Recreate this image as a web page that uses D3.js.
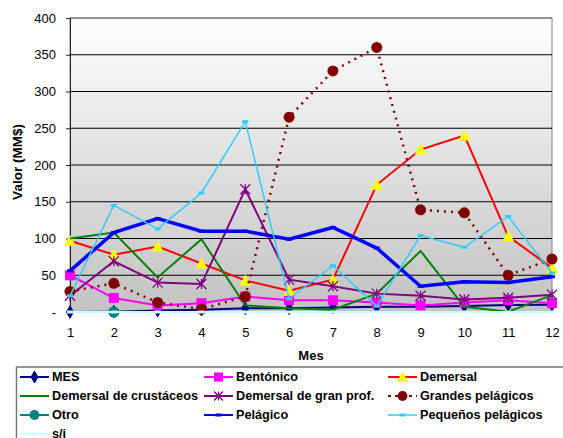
<!DOCTYPE html>
<html>
<head>
<meta charset="utf-8">
<script src="https://cdn.jsdelivr.net/npm/d3@7"></script>
<style>
  body { margin: 0; background: #fff; }
  svg { font-family: "Liberation Sans", Arial, sans-serif; }
  .axis text { font-size: 13px; fill: #000; font-family: "Liberation Sans", Arial, sans-serif; }
  .legend text { font-size: 12.7px; font-weight: bold; }
</style>
</head>
<body>
<svg id="chart" width="563" height="438"></svg>
<script>
// months on the x axis
const months = [1, 2, 3, 4, 5, 6, 7, 8, 9, 10, 11, 12];
const yTicks = [0, 50, 100, 150, 200, 250, 300, 350, 400];

// values per series (MM$)
const mes          = [0, 0.5, 2, 3, 5, 5, 6, 7, 7, 8, 9.5, 10];
const bentonico    = [50, 19, 9, 12, 21, 16, 16, 13, 9, 13, 16, 12];
const demersal     = [97, 78, 89, 66, 43, 29, 44, 173, 221, 240, 103, 60];
const crustaceos   = [100, 108, 47, 99, 9, 5, 3, 25, 83, 7, 0.5, 23];
const granProf     = [22, 69, 40, 38, 167, 44, 35, 25, 22, 17, 19.5, 23.5];
const grandesPel   = [28, 39, 13, 4, 21, 265, 328, 360, 139, 135, 50, 72];
const otro         = [null, 0, null, null, null, null, null, null, null, null, null, null];
const pelagico     = [56, 108, 127, 110, 110, 99, 115, 87, 35, 41, 40, 48];
const pequenos     = [22, 145, 113, 162, 259, 18, 63, 8, 104, 88, 130, 53];
const sinInfo      = [0, 0, 0, 0, 0, 0, 0, 0, 0, 0, 0, 0];

const series = [
  {name: 'MES', values: mes, color: '#000080', width: 2, marker: 'diamond', fill: '#000080'},
  {name: 'Bentónico', values: bentonico, color: '#FF00FF', width: 2, marker: 'square', fill: '#FF00FF'},
  {name: 'Demersal', values: demersal, color: '#FF0000', width: 2, marker: 'triangle', fill: '#FFFF00'},
  {name: 'Demersal de crustáceos', values: crustaceos, color: '#008000', width: 2, marker: null},
  {name: 'Demersal de gran prof.', values: granProf, color: '#800080', width: 2, marker: 'asterisk'},
  {name: 'Grandes pelágicos', values: grandesPel, color: '#800000', width: 2.5, marker: 'circle', fill: '#800000', dash: '2,5'},
  {name: 'Otro', values: otro, color: '#008080', width: 2, marker: 'circle', fill: '#008080'},
  {name: 'Pelágico', values: pelagico, color: '#0000FF', width: 3.5, marker: 'dash'},
  {name: 'Pequeños pelágicos', values: pequenos, color: '#33CCFF', width: 1.5, marker: 'dash'},
  {name: 's/i', values: sinInfo, color: '#CCFFFF', width: 2, marker: 'dash'}
];

const svg = d3.select('#chart');
const margin = {left: 70, right: 11, top: 18, bottom: 126};
const width = 563 - margin.left - margin.right;
const height = 438 - margin.top - margin.bottom;

const x = d3.scalePoint().domain(months).range([0, width]);
const y = d3.scaleLinear().domain([0, 400]).range([height, 0]);

// background gradient
const defs = svg.append('defs');
const grad = defs.append('linearGradient')
  .attr('id', 'bg').attr('x1', 0).attr('y1', 0).attr('x2', 0).attr('y2', 1);
grad.append('stop').attr('offset', '0%').attr('stop-color', '#fefefe');
grad.append('stop').attr('offset', '100%').attr('stop-color', '#c2c2c2');

const chart = svg.append('g')
  .attr('transform', `translate(${margin.left},${margin.top})`);

chart.append('rect')
  .attr('width', width).attr('height', height)
  .attr('fill', 'url(#bg)')
  .attr('stroke', '#808080').attr('stroke-width', 1);

// gridlines
chart.selectAll('.grid')
  .data(yTicks.filter(d => d > 0))
  .join('line')
    .attr('class', 'grid')
    .attr('x1', 0).attr('x2', width)
    .attr('y1', d => y(d)).attr('y2', d => y(d))
    .attr('stroke', d => d === 400 ? '#666' : '#000')
    .attr('stroke-width', 1);

// axes
const yAxis = d3.axisLeft(y)
  .tickValues(yTicks)
  .tickFormat(d => d === 0 ? '-' : d)
  .tickSize(4).tickPadding(10);
chart.append('g').attr('class', 'axis').call(yAxis)
  .call(g => g.select('.domain').attr('stroke', '#222'))
  .call(g => g.selectAll('.tick line').attr('stroke', '#222'));

const xAxis = d3.axisBottom(x).tickSize(0).tickPadding(16);
chart.append('g').attr('class', 'axis')
  .attr('transform', `translate(0,${height})`)
  .call(xAxis)
  .call(g => g.select('.domain').attr('stroke', '#222'));

// axis titles
svg.append('text')
  .attr('transform', `translate(22,${margin.top + height / 2 - 3}) rotate(-90)`)
  .attr('text-anchor', 'middle')
  .style('font-size', '13.5px').style('font-weight', 'bold')
  .text('Valor (MM$)');
svg.append('text')
  .attr('x', margin.left + width / 2).attr('y', 360)
  .attr('text-anchor', 'middle')
  .style('font-size', '13px').style('font-weight', 'bold')
  .text('Mes');

// marker drawing helper
function drawMarker(g, s, size) {
  const k = size || 1;
  if (s.marker === 'diamond') {
    g.append('path').attr('d', d3.symbol(d3.symbolDiamond, 45 * k)())
      .attr('fill', s.fill).attr('stroke', s.color);
  } else if (s.marker === 'square') {
    g.append('rect').attr('x', -5 * k).attr('y', -5 * k)
      .attr('width', 10 * k).attr('height', 10 * k).attr('fill', s.fill);
  } else if (s.marker === 'triangle') {
    g.append('path').attr('d', `M0,${-6 * k}L${6 * k},${5 * k}L${-6 * k},${5 * k}Z`)
      .attr('fill', s.fill);
  } else if (s.marker === 'circle') {
    g.append('circle').attr('r', 5.5 * k).attr('fill', s.fill);
  } else if (s.marker === 'asterisk') {
    const r = 5 * k;
    g.append('path')
      .attr('d', `M${-r},${-r}L${r},${r}M${-r},${r}L${r},${-r}M0,${-r}L0,${r}`)
      .attr('stroke', s.color).attr('stroke-width', 1.3).attr('fill', 'none');
  } else if (s.marker === 'dash') {
    g.append('rect').attr('x', -3).attr('y', -1.5).attr('width', 6).attr('height', 3)
      .attr('fill', s.color);
  }
}

const line = d3.line()
  .defined(d => d.v !== null)
  .x(d => x(d.m))
  .y(d => y(d.v));

series.forEach(s => {
  const pts = months.map((m, i) => ({m, v: s.values[i]}));
  chart.append('path')
    .datum(pts)
    .attr('fill', 'none')
    .attr('stroke', s.color)
    .attr('stroke-width', s.width)
    .attr('stroke-dasharray', s.dash || null)
    .attr('d', line);
  if (s.marker) {
    pts.filter(d => d.v !== null).forEach(d => {
      const g = chart.append('g').attr('transform', `translate(${x(d.m)},${y(d.v)})`);
      drawMarker(g, s);
    });
  }
});

// legend (runs off the bottom edge as in the original)
const legend = svg.append('g').attr('class', 'legend');
legend.append('rect')
  .attr('x', 16.5).attr('y', 367).attr('width', 600).attr('height', 100)
  .attr('fill', '#fff').attr('stroke', '#777').attr('stroke-width', 1.5);

const colX = [20, 204, 388];
const rowY = [377, 396, 415, 434];
series.forEach((s, i) => {
  const cx = colX[i % 3];
  const cy = rowY[Math.floor(i / 3)];
  const g = legend.append('g').attr('transform', `translate(${cx},${cy})`);
  g.append('line').attr('x1', 0).attr('x2', 29).attr('y1', 0).attr('y2', 0)
    .attr('stroke', s.color).attr('stroke-width', Math.min(s.width, 2))
    .attr('stroke-dasharray', s.dash ? '3,4' : null);
  if (s.marker) {
    const mg = g.append('g').attr('transform', 'translate(14.5,0)');
    drawMarker(mg, s, 0.9);
  }
  g.append('text').attr('x', 32).attr('y', 0).attr('dy', '0.35em').text(s.name);
});
</script>
</body>
</html>
